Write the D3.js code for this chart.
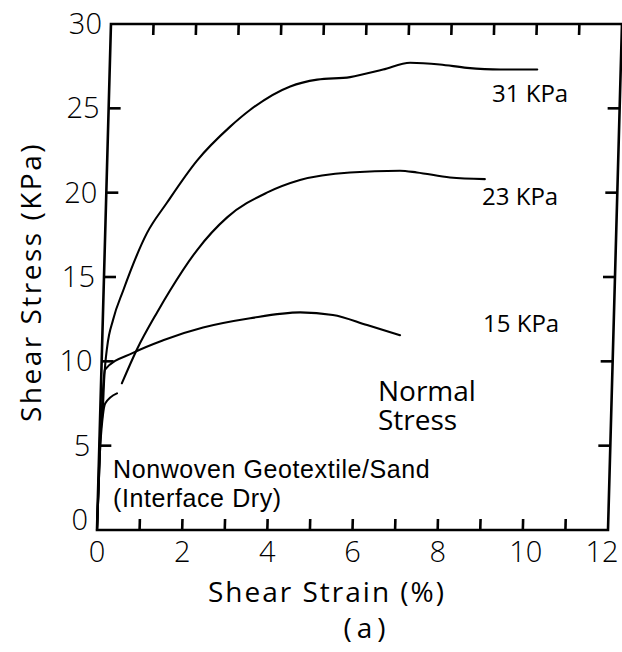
<!DOCTYPE html>
<html>
<head>
<meta charset="utf-8">
<script src="https://cdn.jsdelivr.net/npm/d3@7"></script>
<style>
  html, body { margin: 0; padding: 0; background: #fff; }
  svg { display: block; }
</style>
</head>
<body>
<svg id="chart" width="622" height="652"></svg>
<script>
// ---- data ----
const strain31 = [0, 0.01, 0.06, 0.07, 0.12, 0.24, 0.46, 0.98, 1.43, 2.11, 2.86, 3.32, 4.25, 4.88, 5.65, 6.42, 7.05, 7.75, 8.39, 9.17, 10.04];
const stress31 = [0, 5.5, 7.3, 8.9, 10.85, 12.45, 14.2, 17.6, 19.4, 21.9, 23.9, 24.9, 26.3, 26.7, 26.85, 27.3, 27.7, 27.6, 27.4, 27.3, 27.3];

const strain23 = [0, 0.02, 0.11, 0.38, null, 0.49, 0.82, 1.27, 1.56, 2.17, 2.86, 3.77, 4.54, 5.71, 6.88, 7.28, 8.06, 8.88];
const stress23 = [0, 5.0, 7.5, 8.1, null, 8.7, 10.7, 12.9, 14.2, 16.6, 18.55, 20.0, 20.75, 21.2, 21.3, 21.2, 20.9, 20.8];

const strain15 = [0, 0.02, 0.08, 0.73, 1.43, 2.36, 3.46, 4.63, 5.4, 6.21, 6.99];
const stress15 = [0, 5.0, 9.5, 10.5, 11.25, 12.0, 12.55, 12.9, 12.75, 12.15, 11.55];

const seriesLabels = ["31 KPa", "23 KPa", "15 KPa"];
const xTickLabels = [0, 2, 4, 6, 8, 10, 12];
const yTickLabels = [0, 5, 10, 15, 20, 25, 30];
const xMinorTicks = [1, 2, 3, 4, 5, 6, 7, 8, 9, 10, 11];
const yInnerTicks = [5, 10, 15, 20, 25];

// ---- layout ----
const svg = d3.select("#chart");
const X0 = 97, X1 = 608, Y0 = 530, Y1 = 24;
const x = d3.scaleLinear().domain([0, 12]).range([X0, X1]);
const y = d3.scaleLinear().domain([0, 30]).range([Y0, Y1]);
const ink = "#000000";
const axisFont = "'Open Sans', 'DejaVu Sans', sans-serif";
const noteFont = "'Liberation Sans', Arial, sans-serif";

// the scanned frame leans slightly: top edge shifted right vs bottom
const k = 0.0276;
const sx = (px, py) => px + k * (Y0 - py);
const g = svg.append("g").attr("transform", `matrix(1,0,${-k},1,${k * Y0},0)`);

// frame
g.append("rect")
  .attr("x", x(0)).attr("y", y(30))
  .attr("width", x(12) - x(0)).attr("height", y(0) - y(30))
  .attr("fill", "none").attr("stroke", ink).attr("stroke-width", 2.6);

// inward ticks
const tickSegs = [
  ...xMinorTicks.map(d => [sx(x(d), y(0)), y(0), sx(x(d), y(0) - 11), y(0) - 11]),
  ...xMinorTicks.map(d => [sx(x(d), y(30)), y(30), sx(x(d), y(30) + 11), y(30) + 11]),
  ...yInnerTicks.map(d => [sx(x(0), y(d)), y(d), sx(x(0), y(d)) + 12, y(d)]),
  ...yInnerTicks.map(d => [sx(x(12), y(d)), y(d), sx(x(12), y(d)) - 12, y(d)])
];
svg.append("g").selectAll("line").data(tickSegs).join("line")
  .attr("x1", d => d[0]).attr("y1", d => d[1])
  .attr("x2", d => d[2]).attr("y2", d => d[3])
  .attr("stroke", ink).attr("stroke-width", 2.6);

// y tick labels
svg.append("g").selectAll("text").data(yTickLabels).join("text")
  .attr("x", d => sx(x(0), y(d)) - 9)
  .attr("y", d => y(d) + (d === 0 ? -10 : 0))
  .attr("dy", "0.35em")
  .attr("text-anchor", "end")
  .attr("font-family", axisFont).attr("font-weight", 300).attr("font-size", 29).attr("fill", ink)
  .text(d => d);

// x tick labels
svg.append("g").selectAll("text").data(xTickLabels).join("text")
  .attr("x", d => x(d) - (d === 12 ? 6 : 0) + (d === 10 ? 3 : 0))
  .attr("y", 562)
  .attr("text-anchor", "middle")
  .attr("font-family", axisFont).attr("font-weight", 300).attr("font-size", 29).attr("fill", ink)
  .text(d => d);

// curves
const series = [
  { xs: strain31, ys: stress31 },
  { xs: strain23, ys: stress23 },
  { xs: strain15, ys: stress15 }
];
const line = d3.line()
  .defined(d => d[0] !== null && d[1] !== null)
  .x(d => x(d[0])).y(d => y(d[1]))
  .curve(d3.curveMonotoneX);
series.forEach(s => {
  const pts = s.xs.map((v, i) => [v, s.ys[i]]);
  g.append("path").attr("d", line(pts))
    .attr("fill", "none").attr("stroke", ink).attr("stroke-width", 2.1)
    .attr("stroke-linejoin", "round").attr("stroke-linecap", "round");
});

// series labels
const labelPos = [[492, 102], [482, 205], [483, 332]];
svg.append("g").selectAll("text").data(seriesLabels).join("text")
  .attr("x", (d, i) => labelPos[i][0]).attr("y", (d, i) => labelPos[i][1])
  .attr("font-family", axisFont).attr("font-size", 24).attr("fill", ink)
  .text(d => d);

// annotations (two-line blocks as single text elements)
const normal = svg.append("text")
  .attr("font-family", axisFont).attr("font-size", 28).attr("fill", ink);
normal.append("tspan").attr("x", 378).attr("y", 401).text("Normal");
normal.append("tspan").attr("x", 378).attr("y", 430).text("Stress");

const note = svg.append("text")
  .attr("font-family", noteFont).attr("font-size", 25).attr("letter-spacing", 0.6).attr("fill", ink);
note.append("tspan").attr("x", 113).attr("y", 478).text("Nonwoven Geotextile/Sand");
note.append("tspan").attr("x", 113).attr("y", 507).text("(Interface Dry)");

// axis titles
const xt = svg.append("text")
  .attr("text-anchor", "middle")
  .attr("font-family", axisFont).attr("font-size", 28).attr("fill", ink);
xt.append("tspan").attr("x", 327).attr("y", 602).attr("letter-spacing", 2).text("Shear Strain (%)");
xt.append("tspan").attr("x", 367).attr("y", 638).attr("letter-spacing", 5).text("(a)");

svg.append("text")
  .attr("transform", "translate(41,282) rotate(-90)")
  .attr("text-anchor", "middle").attr("letter-spacing", 2.5)
  .attr("font-family", axisFont).attr("font-size", 28).attr("fill", ink).text("Shear Stress (KPa)");
</script>
</body>
</html>
